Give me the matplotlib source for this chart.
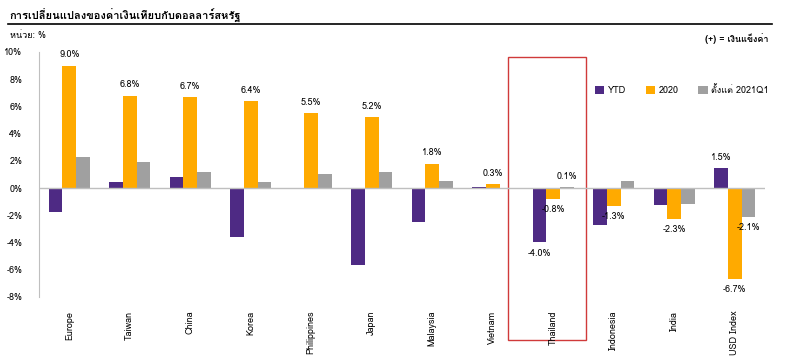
import matplotlib
matplotlib.use("Agg")
import matplotlib.pyplot as plt
from matplotlib import font_manager, ft2font
from matplotlib.patches import Rectangle
import numpy as np

# Data, %
countries = ["Europe", "Taiwan", "China", "Korea", "Philippines", "Japan",
             "Malaysia", "Vietnam", "Thailand", "Indonesia", "India", "USD Index"]
ytd = [-1.75, 0.45, 0.8, -3.6, 0.0, -5.65, -2.5, 0.1, -4.0, -2.75, -1.25, 1.5]
y2020 = [9.0, 6.8, 6.7, 6.4, 5.5, 5.2, 1.8, 0.3, -0.8, -1.3, -2.3, -6.7]
since_q1 = [2.3, 1.9, 1.2, 0.45, 1.05, 1.2, 0.5, 0.0, 0.1, 0.55, -1.2, -2.1]
series_names = ["YTD", "2020", "ตั้งแต่ 2021Q1"]
yticks = [-8, -6, -4, -2, 0, 2, 4, 6, 8, 10]

PURPLE = "#4E2A84"
ORANGE = "#FFAA00"
GREY = "#A0A0A0"


def thai_font():
    """Pick an installed family that has Thai glyphs, if any."""
    for f in font_manager.fontManager.ttflist:
        try:
            cmap = ft2font.FT2Font(f.fname).get_charmap()
        except Exception:
            continue
        if 0x0E01 in cmap and 0x0E40 in cmap:
            return f.name
    return None


th = thai_font()
fams = ([th] if th else []) + ["DejaVu Sans"]
plt.rcParams["font.family"] = fams

fig = plt.figure(figsize=(7.96, 3.56), dpi=100)
ax = fig.add_axes([0.049, 0.166, 0.912, 0.688])

x = np.arange(len(countries))
w = 0.225
ax.bar(x - w, ytd, w, color=PURPLE, label=series_names[0])
ax.bar(x, y2020, w, color=ORANGE, label=series_names[1])
ax.bar(x + w, since_q1, w, color=GREY, label=series_names[2])

ax.set_xlim(-0.5, len(countries) - 0.5)
ax.set_ylim(-8, 10)
ax.set_yticks(yticks)
ax.set_yticklabels([f"{t}%" for t in yticks], fontsize=6.5)
ax.set_xticks(x)
ax.set_xticklabels(countries, rotation=90, fontsize=6.5)
ax.tick_params(length=0, axis="both")
ax.tick_params(axis="x", pad=10)
ax.tick_params(axis="y", pad=12)
for sp in ["top", "right", "bottom"]:
    ax.spines[sp].set_visible(False)
ax.spines["left"].set_color("#BFBFBF")
ax.axhline(0, color="#BFBFBF", linewidth=1)


def label(xpos, v):
    off = 0.45
    ax.text(xpos, v + off if v >= 0 else v - off, f"{v:.1f}%",
            ha="center", va="bottom" if v >= 0 else "top", fontsize=6.5)


for i, v in enumerate(y2020):
    label(x[i], v)
for name in ["Thailand", "USD Index"]:
    i = countries.index(name)
    label(x[i] - w, ytd[i])
    label(x[i] + w, since_q1[i])

# Thailand highlight box
i = countries.index("Thailand")
box = Rectangle((x[i] - 0.75, -11.2), 1.3, 20.85, fill=False,
                edgecolor="#D03A3A", linewidth=1.0, clip_on=False)
ax.add_patch(box)

ax.legend(loc="center left", bbox_to_anchor=(0.755, 0.845), ncol=3, frameon=False,
          fontsize=6.5, handlelength=1.0, handleheight=0.9, columnspacing=2.2,
          handletextpad=0.4)

fig.text(0.012, 0.955, "การเปลี่ยนแปลงของค่าเงินเทียบกับดอลลาร์สหรัฐ", fontsize=8,
         fontweight="bold", va="center")
fig.add_artist(plt.Line2D([0.01, 0.97], [0.932, 0.932], color="black", linewidth=1.2))
fig.text(0.012, 0.9, "หน่วย: %", fontsize=6.5, va="center")
fig.text(0.965, 0.892, "(+) = เงินแข็งค่า", fontsize=6.5, fontweight="bold",
         ha="right", va="center")

fig.savefig("out.png", dpi=100)
